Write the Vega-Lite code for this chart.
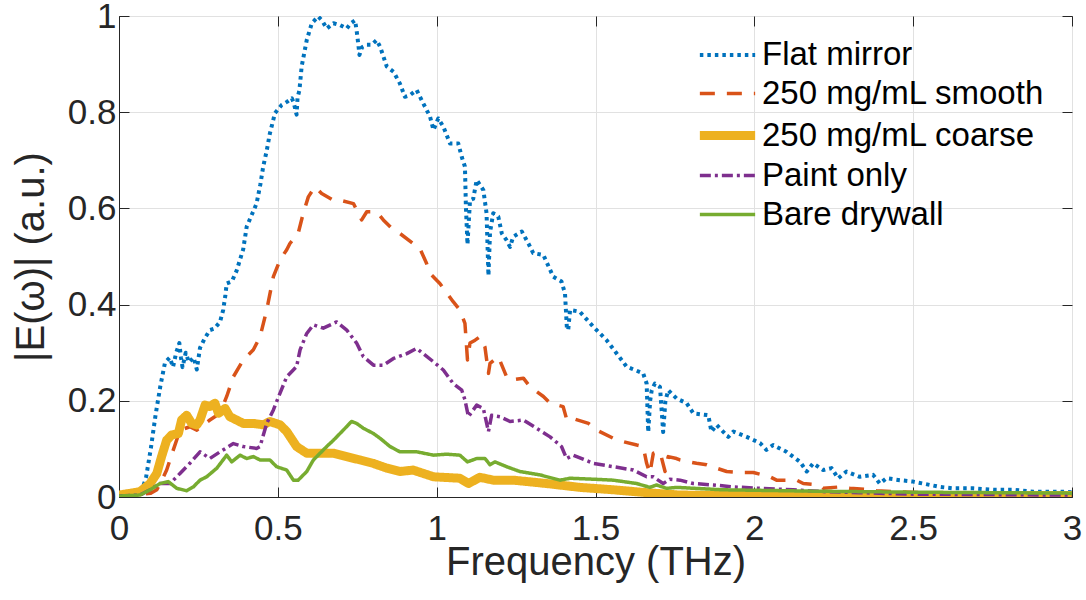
{
  "$schema": "https://vega.github.io/schema/vega-lite/v6.json",
  "width": 953,
  "height": 481,
  "autosize": {"type": "none"},
  "padding": {"left": 119, "top": 16, "right": 14, "bottom": 103},
  "background": "white",
  "config": {
    "font": "Liberation Sans",
    "view": {"stroke": "#262626", "strokeWidth": 1},
    "axis": {
      "labelFontSize": 35,
      "labelColor": "#262626",
      "titleFontSize": 40,
      "titleFontWeight": "normal",
      "titleColor": "#262626",
      "domainColor": "#262626",
      "tickColor": "#262626",
      "gridColor": "#e1e1e1",
      "gridWidth": 1,
      "labelFlush": false,
      "labelOverlap": false,
      "labelBound": false
    },
    "legend": {
      "orient": "none",
      "legendX": 584,
      "legendY": 17,
      "title": null,
      "labelFontSize": 33,
      "labelColor": "#000000",
      "labelFont": "Liberation Sans",
      "labelLimit": 600,
      "symbolType": "M-1.4,0H1.4",
      "symbolSize": 1560,
      "rowPadding": 0,
      "padding": 0,
      "labelOffset": 10
    }
  },
  "data": {"values": [
    {"s":"Flat mirror","f":0,"e":0.005},{"s":"Flat mirror","f":0.05,"e":0.006},{"s":"Flat mirror","f":0.07,"e":0.01},{"s":"Flat mirror","f":0.085,"e":0.04},{"s":"Flat mirror","f":0.1,"e":0.1},{"s":"Flat mirror","f":0.115,"e":0.17},{"s":"Flat mirror","f":0.13,"e":0.23},{"s":"Flat mirror","f":0.145,"e":0.28},{"s":"Flat mirror","f":0.16,"e":0.29},{"s":"Flat mirror","f":0.17,"e":0.27},{"s":"Flat mirror","f":0.18,"e":0.3},{"s":"Flat mirror","f":0.19,"e":0.32},{"s":"Flat mirror","f":0.195,"e":0.29},{"s":"Flat mirror","f":0.2,"e":0.27},{"s":"Flat mirror","f":0.21,"e":0.3},{"s":"Flat mirror","f":0.22,"e":0.28},{"s":"Flat mirror","f":0.235,"e":0.29},{"s":"Flat mirror","f":0.245,"e":0.265},{"s":"Flat mirror","f":0.255,"e":0.31},{"s":"Flat mirror","f":0.27,"e":0.33},{"s":"Flat mirror","f":0.286,"e":0.347},{"s":"Flat mirror","f":0.3,"e":0.35},{"s":"Flat mirror","f":0.318,"e":0.364},{"s":"Flat mirror","f":0.328,"e":0.389},{"s":"Flat mirror","f":0.335,"e":0.42},{"s":"Flat mirror","f":0.339,"e":0.444},{"s":"Flat mirror","f":0.355,"e":0.448},{"s":"Flat mirror","f":0.37,"e":0.47},{"s":"Flat mirror","f":0.391,"e":0.515},{"s":"Flat mirror","f":0.402,"e":0.562},{"s":"Flat mirror","f":0.42,"e":0.59},{"s":"Flat mirror","f":0.433,"e":0.61},{"s":"Flat mirror","f":0.445,"e":0.65},{"s":"Flat mirror","f":0.454,"e":0.687},{"s":"Flat mirror","f":0.465,"e":0.72},{"s":"Flat mirror","f":0.475,"e":0.756},{"s":"Flat mirror","f":0.491,"e":0.798},{"s":"Flat mirror","f":0.512,"e":0.815},{"s":"Flat mirror","f":0.53,"e":0.822},{"s":"Flat mirror","f":0.544,"e":0.829},{"s":"Flat mirror","f":0.55,"e":0.82},{"s":"Flat mirror","f":0.559,"e":0.795},{"s":"Flat mirror","f":0.562,"e":0.83},{"s":"Flat mirror","f":0.568,"e":0.846},{"s":"Flat mirror","f":0.575,"e":0.895},{"s":"Flat mirror","f":0.591,"e":0.95},{"s":"Flat mirror","f":0.607,"e":0.985},{"s":"Flat mirror","f":0.627,"e":0.999},{"s":"Flat mirror","f":0.64,"e":0.99},{"s":"Flat mirror","f":0.654,"e":0.974},{"s":"Flat mirror","f":0.675,"e":0.985},{"s":"Flat mirror","f":0.696,"e":0.981},{"s":"Flat mirror","f":0.717,"e":0.974},{"s":"Flat mirror","f":0.73,"e":0.985},{"s":"Flat mirror","f":0.743,"e":0.991},{"s":"Flat mirror","f":0.748,"e":0.97},{"s":"Flat mirror","f":0.753,"e":0.943},{"s":"Flat mirror","f":0.757,"e":0.919},{"s":"Flat mirror","f":0.765,"e":0.935},{"s":"Flat mirror","f":0.78,"e":0.94},{"s":"Flat mirror","f":0.795,"e":0.94},{"s":"Flat mirror","f":0.811,"e":0.95},{"s":"Flat mirror","f":0.822,"e":0.936},{"s":"Flat mirror","f":0.843,"e":0.895},{"s":"Flat mirror","f":0.864,"e":0.884},{"s":"Flat mirror","f":0.884,"e":0.86},{"s":"Flat mirror","f":0.9,"e":0.832},{"s":"Flat mirror","f":0.915,"e":0.835},{"s":"Flat mirror","f":0.937,"e":0.846},{"s":"Flat mirror","f":0.958,"e":0.818},{"s":"Flat mirror","f":0.979,"e":0.791},{"s":"Flat mirror","f":0.99,"e":0.763},{"s":"Flat mirror","f":1.005,"e":0.787},{"s":"Flat mirror","f":1.021,"e":0.77},{"s":"Flat mirror","f":1.042,"e":0.735},{"s":"Flat mirror","f":1.068,"e":0.735},{"s":"Flat mirror","f":1.079,"e":0.707},{"s":"Flat mirror","f":1.089,"e":0.687},{"s":"Flat mirror","f":1.092,"e":0.604},{"s":"Flat mirror","f":1.097,"e":0.525},{"s":"Flat mirror","f":1.1,"e":0.56},{"s":"Flat mirror","f":1.105,"e":0.617},{"s":"Flat mirror","f":1.115,"e":0.62},{"s":"Flat mirror","f":1.126,"e":0.659},{"s":"Flat mirror","f":1.147,"e":0.638},{"s":"Flat mirror","f":1.157,"e":0.59},{"s":"Flat mirror","f":1.163,"e":0.46},{"s":"Flat mirror","f":1.168,"e":0.55},{"s":"Flat mirror","f":1.178,"e":0.59},{"s":"Flat mirror","f":1.194,"e":0.583},{"s":"Flat mirror","f":1.205,"e":0.548},{"s":"Flat mirror","f":1.22,"e":0.534},{"s":"Flat mirror","f":1.231,"e":0.52},{"s":"Flat mirror","f":1.241,"e":0.541},{"s":"Flat mirror","f":1.268,"e":0.552},{"s":"Flat mirror","f":1.289,"e":0.527},{"s":"Flat mirror","f":1.304,"e":0.507},{"s":"Flat mirror","f":1.336,"e":0.503},{"s":"Flat mirror","f":1.367,"e":0.458},{"s":"Flat mirror","f":1.393,"e":0.448},{"s":"Flat mirror","f":1.404,"e":0.423},{"s":"Flat mirror","f":1.41,"e":0.35},{"s":"Flat mirror","f":1.414,"e":0.347},{"s":"Flat mirror","f":1.42,"e":0.389},{"s":"Flat mirror","f":1.451,"e":0.385},{"s":"Flat mirror","f":1.493,"e":0.354},{"s":"Flat mirror","f":1.535,"e":0.326},{"s":"Flat mirror","f":1.566,"e":0.299},{"s":"Flat mirror","f":1.598,"e":0.271},{"s":"Flat mirror","f":1.65,"e":0.257},{"s":"Flat mirror","f":1.661,"e":0.236},{"s":"Flat mirror","f":1.666,"e":0.135},{"s":"Flat mirror","f":1.672,"e":0.2},{"s":"Flat mirror","f":1.677,"e":0.222},{"s":"Flat mirror","f":1.687,"e":0.236},{"s":"Flat mirror","f":1.703,"e":0.229},{"s":"Flat mirror","f":1.713,"e":0.135},{"s":"Flat mirror","f":1.72,"e":0.2},{"s":"Flat mirror","f":1.729,"e":0.222},{"s":"Flat mirror","f":1.755,"e":0.205},{"s":"Flat mirror","f":1.787,"e":0.195},{"s":"Flat mirror","f":1.808,"e":0.174},{"s":"Flat mirror","f":1.855,"e":0.17},{"s":"Flat mirror","f":1.865,"e":0.136},{"s":"Flat mirror","f":1.881,"e":0.15},{"s":"Flat mirror","f":1.918,"e":0.125},{"s":"Flat mirror","f":1.934,"e":0.136},{"s":"Flat mirror","f":1.976,"e":0.125},{"s":"Flat mirror","f":2.018,"e":0.112},{"s":"Flat mirror","f":2.038,"e":0.098},{"s":"Flat mirror","f":2.059,"e":0.108},{"s":"Flat mirror","f":2.101,"e":0.094},{"s":"Flat mirror","f":2.144,"e":0.073},{"s":"Flat mirror","f":2.165,"e":0.053},{"s":"Flat mirror","f":2.185,"e":0.07},{"s":"Flat mirror","f":2.217,"e":0.056},{"s":"Flat mirror","f":2.243,"e":0.06},{"s":"Flat mirror","f":2.264,"e":0.039},{"s":"Flat mirror","f":2.29,"e":0.053},{"s":"Flat mirror","f":2.332,"e":0.042},{"s":"Flat mirror","f":2.374,"e":0.046},{"s":"Flat mirror","f":2.395,"e":0.028},{"s":"Flat mirror","f":2.416,"e":0.039},{"s":"Flat mirror","f":2.458,"e":0.035},{"s":"Flat mirror","f":2.5,"e":0.032},{"s":"Flat mirror","f":2.584,"e":0.021},{"s":"Flat mirror","f":2.626,"e":0.018},{"s":"Flat mirror","f":2.689,"e":0.018},{"s":"Flat mirror","f":2.752,"e":0.015},{"s":"Flat mirror","f":2.815,"e":0.015},{"s":"Flat mirror","f":2.878,"e":0.011},{"s":"Flat mirror","f":2.962,"e":0.011},{"s":"Flat mirror","f":3,"e":0.01},

    {"s":"250 mg/mL smooth","f":0,"e":0.004},{"s":"250 mg/mL smooth","f":0.05,"e":0.004},{"s":"250 mg/mL smooth","f":0.1,"e":0.008},{"s":"250 mg/mL smooth","f":0.119,"e":0.015},{"s":"250 mg/mL smooth","f":0.135,"e":0.035},{"s":"250 mg/mL smooth","f":0.15,"e":0.056},{"s":"250 mg/mL smooth","f":0.171,"e":0.098},{"s":"250 mg/mL smooth","f":0.192,"e":0.139},{"s":"250 mg/mL smooth","f":0.223,"e":0.146},{"s":"250 mg/mL smooth","f":0.245,"e":0.139},{"s":"250 mg/mL smooth","f":0.265,"e":0.15},{"s":"250 mg/mL smooth","f":0.286,"e":0.16},{"s":"250 mg/mL smooth","f":0.318,"e":0.174},{"s":"250 mg/mL smooth","f":0.339,"e":0.209},{"s":"250 mg/mL smooth","f":0.36,"e":0.25},{"s":"250 mg/mL smooth","f":0.391,"e":0.285},{"s":"250 mg/mL smooth","f":0.423,"e":0.306},{"s":"250 mg/mL smooth","f":0.444,"e":0.333},{"s":"250 mg/mL smooth","f":0.465,"e":0.389},{"s":"250 mg/mL smooth","f":0.486,"e":0.458},{"s":"250 mg/mL smooth","f":0.507,"e":0.493},{"s":"250 mg/mL smooth","f":0.528,"e":0.514},{"s":"250 mg/mL smooth","f":0.538,"e":0.527},{"s":"250 mg/mL smooth","f":0.564,"e":0.548},{"s":"250 mg/mL smooth","f":0.58,"e":0.59},{"s":"250 mg/mL smooth","f":0.596,"e":0.624},{"s":"250 mg/mL smooth","f":0.617,"e":0.645},{"s":"250 mg/mL smooth","f":0.638,"e":0.631},{"s":"250 mg/mL smooth","f":0.675,"e":0.617},{"s":"250 mg/mL smooth","f":0.696,"e":0.617},{"s":"250 mg/mL smooth","f":0.738,"e":0.61},{"s":"250 mg/mL smooth","f":0.748,"e":0.597},{"s":"250 mg/mL smooth","f":0.764,"e":0.576},{"s":"250 mg/mL smooth","f":0.78,"e":0.593},{"s":"250 mg/mL smooth","f":0.811,"e":0.593},{"s":"250 mg/mL smooth","f":0.832,"e":0.576},{"s":"250 mg/mL smooth","f":0.864,"e":0.555},{"s":"250 mg/mL smooth","f":0.884,"e":0.548},{"s":"250 mg/mL smooth","f":0.926,"e":0.527},{"s":"250 mg/mL smooth","f":0.947,"e":0.517},{"s":"250 mg/mL smooth","f":0.968,"e":0.486},{"s":"250 mg/mL smooth","f":0.979,"e":0.465},{"s":"250 mg/mL smooth","f":1.01,"e":0.444},{"s":"250 mg/mL smooth","f":1.021,"e":0.434},{"s":"250 mg/mL smooth","f":1.052,"e":0.406},{"s":"250 mg/mL smooth","f":1.073,"e":0.389},{"s":"250 mg/mL smooth","f":1.089,"e":0.361},{"s":"250 mg/mL smooth","f":1.097,"e":0.285},{"s":"250 mg/mL smooth","f":1.105,"e":0.32},{"s":"250 mg/mL smooth","f":1.121,"e":0.326},{"s":"250 mg/mL smooth","f":1.136,"e":0.333},{"s":"250 mg/mL smooth","f":1.152,"e":0.312},{"s":"250 mg/mL smooth","f":1.163,"e":0.257},{"s":"250 mg/mL smooth","f":1.168,"e":0.278},{"s":"250 mg/mL smooth","f":1.194,"e":0.292},{"s":"250 mg/mL smooth","f":1.22,"e":0.25},{"s":"250 mg/mL smooth","f":1.231,"e":0.243},{"s":"250 mg/mL smooth","f":1.273,"e":0.247},{"s":"250 mg/mL smooth","f":1.294,"e":0.229},{"s":"250 mg/mL smooth","f":1.336,"e":0.209},{"s":"250 mg/mL smooth","f":1.357,"e":0.195},{"s":"250 mg/mL smooth","f":1.398,"e":0.188},{"s":"250 mg/mL smooth","f":1.41,"e":0.16},{"s":"250 mg/mL smooth","f":1.425,"e":0.164},{"s":"250 mg/mL smooth","f":1.478,"e":0.153},{"s":"250 mg/mL smooth","f":1.504,"e":0.139},{"s":"250 mg/mL smooth","f":1.556,"e":0.122},{"s":"250 mg/mL smooth","f":1.588,"e":0.115},{"s":"250 mg/mL smooth","f":1.63,"e":0.108},{"s":"250 mg/mL smooth","f":1.65,"e":0.105},{"s":"250 mg/mL smooth","f":1.661,"e":0.07},{"s":"250 mg/mL smooth","f":1.671,"e":0.049},{"s":"250 mg/mL smooth","f":1.682,"e":0.091},{"s":"250 mg/mL smooth","f":1.703,"e":0.094},{"s":"250 mg/mL smooth","f":1.719,"e":0.053},{"s":"250 mg/mL smooth","f":1.729,"e":0.084},{"s":"250 mg/mL smooth","f":1.755,"e":0.08},{"s":"250 mg/mL smooth","f":1.766,"e":0.077},{"s":"250 mg/mL smooth","f":1.818,"e":0.07},{"s":"250 mg/mL smooth","f":1.85,"e":0.067},{"s":"250 mg/mL smooth","f":1.881,"e":0.06},{"s":"250 mg/mL smooth","f":1.913,"e":0.053},{"s":"250 mg/mL smooth","f":1.955,"e":0.051},{"s":"250 mg/mL smooth","f":1.997,"e":0.051},{"s":"250 mg/mL smooth","f":2.049,"e":0.042},{"s":"250 mg/mL smooth","f":2.07,"e":0.035},{"s":"250 mg/mL smooth","f":2.133,"e":0.035},{"s":"250 mg/mL smooth","f":2.154,"e":0.028},{"s":"250 mg/mL smooth","f":2.206,"e":0.025},{"s":"250 mg/mL smooth","f":2.217,"e":0.018},{"s":"250 mg/mL smooth","f":2.269,"e":0.021},{"s":"250 mg/mL smooth","f":2.301,"e":0.018},{"s":"250 mg/mL smooth","f":2.353,"e":0.016},{"s":"250 mg/mL smooth","f":2.385,"e":0.013},{"s":"250 mg/mL smooth","f":2.437,"e":0.011},{"s":"250 mg/mL smooth","f":2.542,"e":0.009},{"s":"250 mg/mL smooth","f":2.7,"e":0.007},{"s":"250 mg/mL smooth","f":3,"e":0.005},

    {"s":"250 mg/mL coarse","f":0,"e":0.004},{"s":"250 mg/mL coarse","f":0.066,"e":0.011},{"s":"250 mg/mL coarse","f":0.098,"e":0.028},{"s":"250 mg/mL coarse","f":0.119,"e":0.049},{"s":"250 mg/mL coarse","f":0.134,"e":0.084},{"s":"250 mg/mL coarse","f":0.15,"e":0.118},{"s":"250 mg/mL coarse","f":0.166,"e":0.129},{"s":"250 mg/mL coarse","f":0.187,"e":0.132},{"s":"250 mg/mL coarse","f":0.197,"e":0.16},{"s":"250 mg/mL coarse","f":0.213,"e":0.17},{"s":"250 mg/mL coarse","f":0.229,"e":0.153},{"s":"250 mg/mL coarse","f":0.245,"e":0.15},{"s":"250 mg/mL coarse","f":0.255,"e":0.16},{"s":"250 mg/mL coarse","f":0.271,"e":0.191},{"s":"250 mg/mL coarse","f":0.286,"e":0.188},{"s":"250 mg/mL coarse","f":0.302,"e":0.195},{"s":"250 mg/mL coarse","f":0.313,"e":0.174},{"s":"250 mg/mL coarse","f":0.334,"e":0.184},{"s":"250 mg/mL coarse","f":0.349,"e":0.167},{"s":"250 mg/mL coarse","f":0.37,"e":0.16},{"s":"250 mg/mL coarse","f":0.391,"e":0.153},{"s":"250 mg/mL coarse","f":0.423,"e":0.153},{"s":"250 mg/mL coarse","f":0.454,"e":0.15},{"s":"250 mg/mL coarse","f":0.475,"e":0.157},{"s":"250 mg/mL coarse","f":0.507,"e":0.15},{"s":"250 mg/mL coarse","f":0.528,"e":0.136},{"s":"250 mg/mL coarse","f":0.559,"e":0.105},{"s":"250 mg/mL coarse","f":0.591,"e":0.091},{"s":"250 mg/mL coarse","f":0.633,"e":0.091},{"s":"250 mg/mL coarse","f":0.675,"e":0.091},{"s":"250 mg/mL coarse","f":0.717,"e":0.084},{"s":"250 mg/mL coarse","f":0.759,"e":0.077},{"s":"250 mg/mL coarse","f":0.8,"e":0.07},{"s":"250 mg/mL coarse","f":0.843,"e":0.06},{"s":"250 mg/mL coarse","f":0.884,"e":0.053},{"s":"250 mg/mL coarse","f":0.926,"e":0.056},{"s":"250 mg/mL coarse","f":0.99,"e":0.042},{"s":"250 mg/mL coarse","f":1.073,"e":0.039},{"s":"250 mg/mL coarse","f":1.1,"e":0.028},{"s":"250 mg/mL coarse","f":1.136,"e":0.041},{"s":"250 mg/mL coarse","f":1.178,"e":0.035},{"s":"250 mg/mL coarse","f":1.241,"e":0.035},{"s":"250 mg/mL coarse","f":1.346,"e":0.028},{"s":"250 mg/mL coarse","f":1.451,"e":0.02},{"s":"250 mg/mL coarse","f":1.556,"e":0.015},{"s":"250 mg/mL coarse","f":1.661,"e":0.009},{"s":"250 mg/mL coarse","f":1.766,"e":0.004},{"s":"250 mg/mL coarse","f":2,"e":0.003},{"s":"250 mg/mL coarse","f":3,"e":0.003},

    {"s":"Paint only","f":0,"e":0.002},{"s":"Paint only","f":0.066,"e":0.004},{"s":"Paint only","f":0.098,"e":0.015},{"s":"Paint only","f":0.129,"e":0.028},{"s":"Paint only","f":0.161,"e":0.028},{"s":"Paint only","f":0.192,"e":0.049},{"s":"Paint only","f":0.223,"e":0.07},{"s":"Paint only","f":0.255,"e":0.094},{"s":"Paint only","f":0.286,"e":0.08},{"s":"Paint only","f":0.318,"e":0.094},{"s":"Paint only","f":0.36,"e":0.111},{"s":"Paint only","f":0.391,"e":0.105},{"s":"Paint only","f":0.433,"e":0.101},{"s":"Paint only","f":0.444,"e":0.105},{"s":"Paint only","f":0.465,"e":0.153},{"s":"Paint only","f":0.486,"e":0.181},{"s":"Paint only","f":0.507,"e":0.216},{"s":"Paint only","f":0.528,"e":0.25},{"s":"Paint only","f":0.559,"e":0.271},{"s":"Paint only","f":0.57,"e":0.306},{"s":"Paint only","f":0.591,"e":0.34},{"s":"Paint only","f":0.612,"e":0.358},{"s":"Paint only","f":0.643,"e":0.351},{"s":"Paint only","f":0.685,"e":0.364},{"s":"Paint only","f":0.717,"e":0.347},{"s":"Paint only","f":0.748,"e":0.32},{"s":"Paint only","f":0.769,"e":0.292},{"s":"Paint only","f":0.801,"e":0.274},{"s":"Paint only","f":0.832,"e":0.274},{"s":"Paint only","f":0.864,"e":0.288},{"s":"Paint only","f":0.906,"e":0.298},{"s":"Paint only","f":0.937,"e":0.309},{"s":"Paint only","f":0.99,"e":0.281},{"s":"Paint only","f":1.021,"e":0.264},{"s":"Paint only","f":1.052,"e":0.236},{"s":"Paint only","f":1.079,"e":0.222},{"s":"Paint only","f":1.089,"e":0.202},{"s":"Paint only","f":1.1,"e":0.167},{"s":"Paint only","f":1.126,"e":0.191},{"s":"Paint only","f":1.147,"e":0.184},{"s":"Paint only","f":1.163,"e":0.136},{"s":"Paint only","f":1.173,"e":0.17},{"s":"Paint only","f":1.199,"e":0.167},{"s":"Paint only","f":1.231,"e":0.157},{"s":"Paint only","f":1.273,"e":0.16},{"s":"Paint only","f":1.314,"e":0.143},{"s":"Paint only","f":1.357,"e":0.125},{"s":"Paint only","f":1.393,"e":0.105},{"s":"Paint only","f":1.409,"e":0.08},{"s":"Paint only","f":1.43,"e":0.087},{"s":"Paint only","f":1.493,"e":0.07},{"s":"Paint only","f":1.556,"e":0.063},{"s":"Paint only","f":1.619,"e":0.056},{"s":"Paint only","f":1.661,"e":0.042},{"s":"Paint only","f":1.682,"e":0.042},{"s":"Paint only","f":1.713,"e":0.028},{"s":"Paint only","f":1.734,"e":0.037},{"s":"Paint only","f":1.766,"e":0.035},{"s":"Paint only","f":1.808,"e":0.028},{"s":"Paint only","f":1.871,"e":0.025},{"s":"Paint only","f":1.934,"e":0.021},{"s":"Paint only","f":2.018,"e":0.018},{"s":"Paint only","f":2.122,"e":0.015},{"s":"Paint only","f":2.227,"e":0.011},{"s":"Paint only","f":2.332,"e":0.009},{"s":"Paint only","f":2.49,"e":0.006},{"s":"Paint only","f":3,"e":0.004},

    {"s":"Bare drywall","f":0,"e":0.002},{"s":"Bare drywall","f":0.066,"e":0.004},{"s":"Bare drywall","f":0.098,"e":0.015},{"s":"Bare drywall","f":0.129,"e":0.028},{"s":"Bare drywall","f":0.155,"e":0.032},{"s":"Bare drywall","f":0.182,"e":0.018},{"s":"Bare drywall","f":0.213,"e":0.013},{"s":"Bare drywall","f":0.234,"e":0.021},{"s":"Bare drywall","f":0.255,"e":0.035},{"s":"Bare drywall","f":0.276,"e":0.042},{"s":"Bare drywall","f":0.308,"e":0.06},{"s":"Bare drywall","f":0.339,"e":0.087},{"s":"Bare drywall","f":0.355,"e":0.073},{"s":"Bare drywall","f":0.381,"e":0.087},{"s":"Bare drywall","f":0.402,"e":0.08},{"s":"Bare drywall","f":0.423,"e":0.084},{"s":"Bare drywall","f":0.444,"e":0.077},{"s":"Bare drywall","f":0.475,"e":0.077},{"s":"Bare drywall","f":0.496,"e":0.063},{"s":"Bare drywall","f":0.528,"e":0.056},{"s":"Bare drywall","f":0.549,"e":0.035},{"s":"Bare drywall","f":0.564,"e":0.035},{"s":"Bare drywall","f":0.591,"e":0.053},{"s":"Bare drywall","f":0.612,"e":0.077},{"s":"Bare drywall","f":0.654,"e":0.105},{"s":"Bare drywall","f":0.675,"e":0.118},{"s":"Bare drywall","f":0.706,"e":0.139},{"s":"Bare drywall","f":0.732,"e":0.157},{"s":"Bare drywall","f":0.748,"e":0.153},{"s":"Bare drywall","f":0.769,"e":0.143},{"s":"Bare drywall","f":0.801,"e":0.132},{"s":"Bare drywall","f":0.822,"e":0.122},{"s":"Bare drywall","f":0.853,"e":0.105},{"s":"Bare drywall","f":0.884,"e":0.094},{"s":"Bare drywall","f":0.937,"e":0.094},{"s":"Bare drywall","f":0.99,"e":0.087},{"s":"Bare drywall","f":1.031,"e":0.089},{"s":"Bare drywall","f":1.073,"e":0.087},{"s":"Bare drywall","f":1.097,"e":0.073},{"s":"Bare drywall","f":1.126,"e":0.08},{"s":"Bare drywall","f":1.152,"e":0.08},{"s":"Bare drywall","f":1.168,"e":0.067},{"s":"Bare drywall","f":1.184,"e":0.073},{"s":"Bare drywall","f":1.22,"e":0.063},{"s":"Bare drywall","f":1.262,"e":0.053},{"s":"Bare drywall","f":1.325,"e":0.046},{"s":"Bare drywall","f":1.388,"e":0.035},{"s":"Bare drywall","f":1.42,"e":0.039},{"s":"Bare drywall","f":1.493,"e":0.037},{"s":"Bare drywall","f":1.556,"e":0.035},{"s":"Bare drywall","f":1.63,"e":0.028},{"s":"Bare drywall","f":1.671,"e":0.02},{"s":"Bare drywall","f":1.692,"e":0.025},{"s":"Bare drywall","f":1.724,"e":0.018},{"s":"Bare drywall","f":1.755,"e":0.02},{"s":"Bare drywall","f":1.9,"e":0.015},{"s":"Bare drywall","f":2.2,"e":0.012},{"s":"Bare drywall","f":2.5,"e":0.01},{"s":"Bare drywall","f":3,"e":0.008}
  ]},
  "layer": [
    {
      "mark": {"type": "line", "strokeCap": "butt", "strokeJoin": "round", "clip": true},
      "encoding": {
        "x": {"field": "f", "type": "quantitative", "scale": {"domain": [0, 3], "nice": false, "zero": false},
          "axis": {"title": "Frequency (THz)", "values": [0, 0.5, 1, 1.5, 2, 2.5, 3], "format": "~g", "tickSize": -10, "labelPadding": 24, "titlePadding": -4, "grid": true}},
        "y": {"field": "e", "type": "quantitative", "scale": {"domain": [0, 1], "nice": false},
          "axis": {"title": "|E(ω)| (a.u.)", "values": [0, 0.2, 0.4, 0.6, 0.8, 1], "format": "~g", "tickSize": -10, "labelPadding": 13, "titlePadding": 16, "grid": true}},
        "color": {"field": "s", "type": "nominal",
          "scale": {"domain": ["Flat mirror", "250 mg/mL smooth", "250 mg/mL coarse", "Paint only", "Bare drywall"],
                    "range": ["#0072BD", "#D95319", "#EDB120", "#7E2F8E", "#77AC30"]}},
        "strokeDash": {"field": "s", "type": "nominal",
          "scale": {"domain": ["Flat mirror", "250 mg/mL smooth", "250 mg/mL coarse", "Paint only", "Bare drywall"],
                    "range": [[3.5, 4], [15, 12], [1, 0], [11, 4, 3, 4], [1, 0]]}},
        "strokeWidth": {"field": "s", "type": "nominal",
          "scale": {"type": "ordinal", "domain": ["Flat mirror", "250 mg/mL smooth", "250 mg/mL coarse", "Paint only", "Bare drywall"],
                    "range": [4, 3.5, 9, 3.5, 3.5]}}
      }
    },
    {
      "mark": {"type": "line", "opacity": 0},
      "encoding": {
        "x": {"field": "f", "type": "quantitative",
          "axis": {"orient": "top", "title": null, "labels": false, "grid": false, "domain": false, "values": [0, 0.5, 1, 1.5, 2, 2.5, 3], "tickSize": -10}},
        "y": {"field": "e", "type": "quantitative",
          "axis": {"orient": "right", "title": null, "labels": false, "grid": false, "domain": false, "values": [0, 0.2, 0.4, 0.6, 0.8, 1], "tickSize": -10}},
        "detail": {"field": "s", "type": "nominal"}
      }
    }
  ],
  "resolve": {"axis": {"x": "independent", "y": "independent"}}
}
